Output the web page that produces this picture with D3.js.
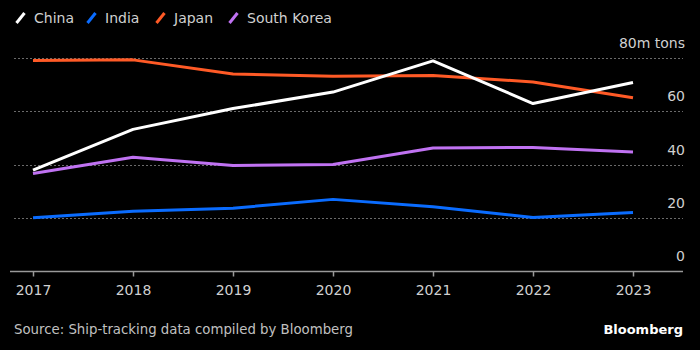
<!DOCTYPE html>
<html>
<head>
<meta charset="utf-8">
<script src="https://cdn.jsdelivr.net/npm/d3@7"></script>
<style>
  html, body { margin: 0; padding: 0; background: #000; }
  svg { display: block; font-family: "DejaVu Sans", sans-serif; }
</style>
</head>
<body>
<div id="chart"></div>
<script>
// Data (million tons)
var years = [2017, 2018, 2019, 2020, 2021, 2022, 2023];
var china = [37.9, 53.2, 61.0, 67.2, 78.9, 62.9, 70.8];
var india = [20.0, 22.4, 23.6, 26.9, 24.1, 20.1, 22.0];
var japan = [79.1, 79.3, 74.0, 73.1, 73.4, 71.0, 65.1];
var southKorea = [36.6, 42.7, 39.6, 40.0, 46.2, 46.4, 44.7];
var yTicks = [0, 20, 40, 60, 80];

var series = [
    {name: 'China', values: china, color: '#ffffff'},
    {name: 'India', values: india, color: '#0a6cff'},
    {name: 'Japan', values: japan, color: '#ff5a26'},
    {name: 'South Korea', values: southKorea, color: '#c072f2'}
];

var width = 700, height = 350;
var margin = {top: 58, right: 17, bottom: 79, left: 14};

var svg = d3.select('#chart').append('svg')
    .attr('width', width)
    .attr('height', height);

svg.append('rect').attr('width', width).attr('height', height).attr('fill', '#000');

var x = d3.scaleLinear()
    .domain([2017, 2023])
    .range([33, 633]);

var y = d3.scaleLinear()
    .domain([0, 80])
    .range([height - margin.bottom, margin.top]);

// Gridlines (dotted) for non-zero ticks
svg.append('g')
    .selectAll('line')
    .data(yTicks.filter(function (d) { return d > 0; }))
    .enter()
    .append('line')
    .attr('x1', margin.left)
    .attr('x2', width - margin.right)
    .attr('y1', function (d) { return Math.round(y(d)) + 0.5; })
    .attr('y2', function (d) { return Math.round(y(d)) + 0.5; })
    .attr('stroke', '#6a6a6a')
    .attr('stroke-width', 1)
    .attr('stroke-dasharray', '2,2');

// Y tick labels, right aligned above gridlines
svg.append('g')
    .selectAll('text')
    .data(yTicks)
    .enter()
    .append('text')
    .attr('x', width - margin.right + 2)
    .attr('y', function (d) { return y(d) - 10; })
    .attr('text-anchor', 'end')
    .attr('fill', '#d0d0d0')
    .style('font-size', '14px')
    .text(function (d) { return d === 80 ? '80m tons' : d; });

// X axis
var xAxis = d3.axisBottom(x)
    .tickValues(years)
    .tickFormat(d3.format('d'))
    .tickSize(5)
    .tickPadding(9);

var xg = svg.append('g')
    .attr('transform', 'translate(0,' + (Math.round(y(0)) + 0.5) + ')')
    .call(xAxis);

xg.select('.domain').remove();
xg.insert('line', ':first-child')
    .attr('x1', 10)
    .attr('x2', width - margin.right)
    .attr('stroke', '#999')
    .attr('stroke-width', 1.5);
xg.selectAll('.tick line').attr('stroke', '#999').attr('stroke-width', 1.5);
xg.selectAll('.tick text')
    .attr('fill', '#d0d0d0')
    .style('font-size', '14px')
    .style('font-family', '"DejaVu Sans", sans-serif');

// Lines, drawn so that China ends up on top
var line = d3.line()
    .x(function (d, i) { return x(years[i]); })
    .y(function (d) { return y(d); });

svg.append('g')
    .selectAll('path')
    .data(series.slice().reverse())
    .enter()
    .append('path')
    .attr('d', function (d) { return line(d.values); })
    .attr('fill', 'none')
    .attr('stroke', function (d) { return d.color; })
    .attr('stroke-width', 3)
    .attr('stroke-linejoin', 'round');

// Legend
var legendX = [15, 86, 155, 228];
var legend = svg.append('g')
    .selectAll('g')
    .data(series)
    .enter()
    .append('g')
    .attr('transform', function (d, i) { return 'translate(' + legendX[i] + ',0)'; });

legend.append('line')
    .attr('x1', 1.5).attr('y1', 23)
    .attr('x2', 9.5).attr('y2', 13)
    .attr('stroke', function (d) { return d.color; })
    .attr('stroke-width', 3);

legend.append('text')
    .attr('x', 19)
    .attr('y', 23)
    .attr('fill', '#d0d0d0')
    .style('font-size', '14px')
    .text(function (d) { return d.name; });

// Footer
svg.append('text')
    .attr('x', 14)
    .attr('y', 334)
    .attr('fill', '#c0c0c0')
    .style('font-size', '13.3px')
    .text('Source: Ship-tracking data compiled by Bloomberg');

svg.append('text')
    .attr('x', 683)
    .attr('y', 334)
    .attr('text-anchor', 'end')
    .attr('fill', '#fff')
    .style('font-size', '13px')
    .style('font-weight', 'bold')
    .text('Bloomberg');
</script>
</body>
</html>
